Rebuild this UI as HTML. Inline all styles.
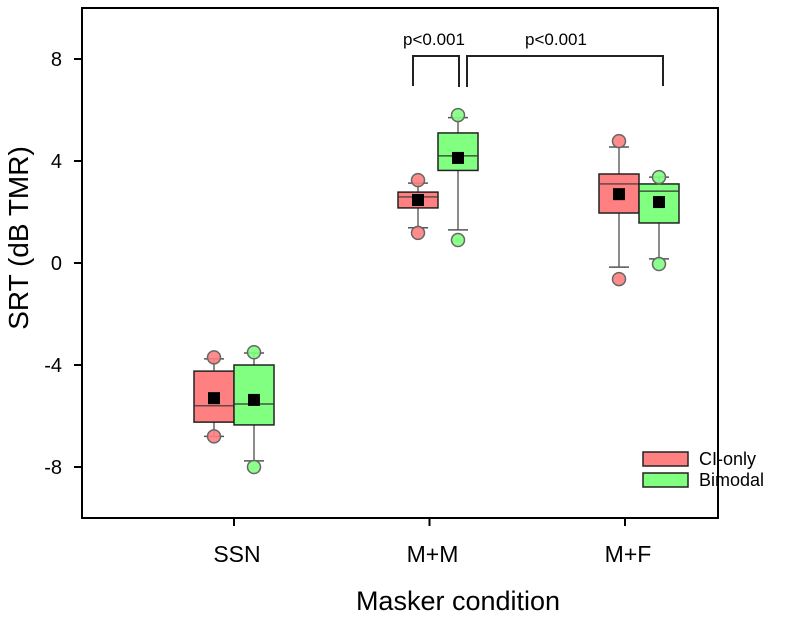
<!DOCTYPE html>
<html><head><meta charset="utf-8"><style>
body{margin:0;background:#fff}
svg{display:block;font-family:"Liberation Sans",Arial,sans-serif}
</style></head><body>
<svg id="chart" width="800" height="619">
<rect x="82" y="8" width="636" height="510" fill="none" stroke="#000" stroke-width="2"/>
<text x="28" y="238" font-size="28" text-anchor="middle" transform="rotate(-90 28 238)">SRT (dB TMR)</text>
<text x="458" y="610" font-size="27" text-anchor="middle">Masker condition</text>
<g>
<rect x="643" y="452" width="45" height="14" fill="#ff8080" stroke="#222" stroke-width="1.5"/>
<text x="699" y="465" font-size="18">CI-only</text>
<rect x="643" y="473" width="45" height="14" fill="#80ff80" stroke="#222" stroke-width="1.5"/>
<text x="699" y="486" font-size="18">Bimodal</text>
</g>
<g>
<path d="M413 86V56H459V87" fill="none" stroke="#222" stroke-width="2"/>
<text x="434" y="45" font-size="17" text-anchor="middle">p&lt;0.001</text>
<path d="M467 87V56H663V86" fill="none" stroke="#222" stroke-width="2"/>
<text x="556" y="45" font-size="17" text-anchor="middle">p&lt;0.001</text>
</g>
</svg>
<script>
const categories=["SSN","M+M","M+F"];
const yTicks=[8,4,0,-4,-8];
const ciQ1=[-6.24,2.16,1.96], ciMedian=[-5.6,2.59,3.1], ciQ3=[-4.24,2.78,3.49], ciMean=[-5.3,2.47,2.7], ciWLo=[-6.8,1.38,-0.16], ciWHi=[-3.76,3.13,4.55], ciOutLo=[-6.8,1.18,-0.63], ciOutHi=[-3.7,3.25,4.78];
const biQ1=[-6.35,3.63,1.57], biMedian=[-5.53,4.2,2.82], biQ3=[-4.0,5.1,3.1], biMean=[-5.37,4.12,2.39], biWLo=[-7.76,1.3,0.16], biWHi=[-3.53,5.7,3.37], biOutLo=[-8.0,0.9,-0.04], biOutHi=[-3.5,5.8,3.37];
const NS="http://www.w3.org/2000/svg";
const svg=document.getElementById('chart');
const y=v=>263-25.5*v;
const tickX=i=>234+195.5*i;
const groupX=i=>[234,438,639][i];
function mk(t,a){const e=document.createElementNS(NS,t);for(const k in a)e.setAttribute(k,a[k]);svg.appendChild(e);return e;}
yTicks.forEach(v=>{
  const t=mk('line',{x1:74,x2:82,y1:y(v),y2:y(v),stroke:'#000','stroke-width':2});
  
  
  const l=mk('text',{x:62,y:y(v)+7,'font-size':20,'text-anchor':'end'});l.textContent=v;
  
  
});
categories.forEach((c,i)=>{
  const t=mk('line',{x1:tickX(i),x2:tickX(i),y1:518,y2:526,stroke:'#000','stroke-width':2});
  
  
  const l=mk('text',{x:tickX(i)+3,y:562,'font-size':23,'text-anchor':'middle'});l.textContent=c;
  
  
});
function drawBox(cx,q1,med,q3,mean,wlo,whi,olo,ohi,fill,name){
  const w=40;
  const wl=mk('line',{x1:cx,x2:cx,y1:y(whi),y2:y(wlo),stroke:'#666','stroke-width':1.5});
  
  
  [wlo,whi].forEach(v=>{const c=mk('line',{x1:cx-10,x2:cx+10,y1:y(v),y2:y(v),stroke:'#555','stroke-width':1.5});
    
    });
  const b=mk('rect',{x:cx-w/2,y:y(q3),width:w,height:y(q1)-y(q3),fill:fill,stroke:'#222','stroke-width':1.5});
  
  
  const m=mk('line',{x1:cx-w/2,x2:cx+w/2,y1:y(med),y2:y(med),stroke:'#333','stroke-width':1.2});
  
  
  [olo,ohi].forEach(v=>{const o=mk('circle',{cx:cx,cy:y(v),r:6.5,fill:fill,'fill-opacity':0.9,stroke:'#666','stroke-width':1.5});
    
    });
  const s=mk('rect',{x:cx-6,y:y(mean)-6,width:12,height:12,fill:'#000'});
  
  
}
categories.forEach((c,i)=>{
  drawBox(groupX(i)-20,ciQ1[i],ciMedian[i],ciQ3[i],ciMean[i],ciWLo[i],ciWHi[i],ciOutLo[i],ciOutHi[i],'#ff8080','ci-only');
  drawBox(groupX(i)+20,biQ1[i],biMedian[i],biQ3[i],biMean[i],biWLo[i],biWHi[i],biOutLo[i],biOutHi[i],'#80ff80','bimodal');
});
</script>
</body></html>
